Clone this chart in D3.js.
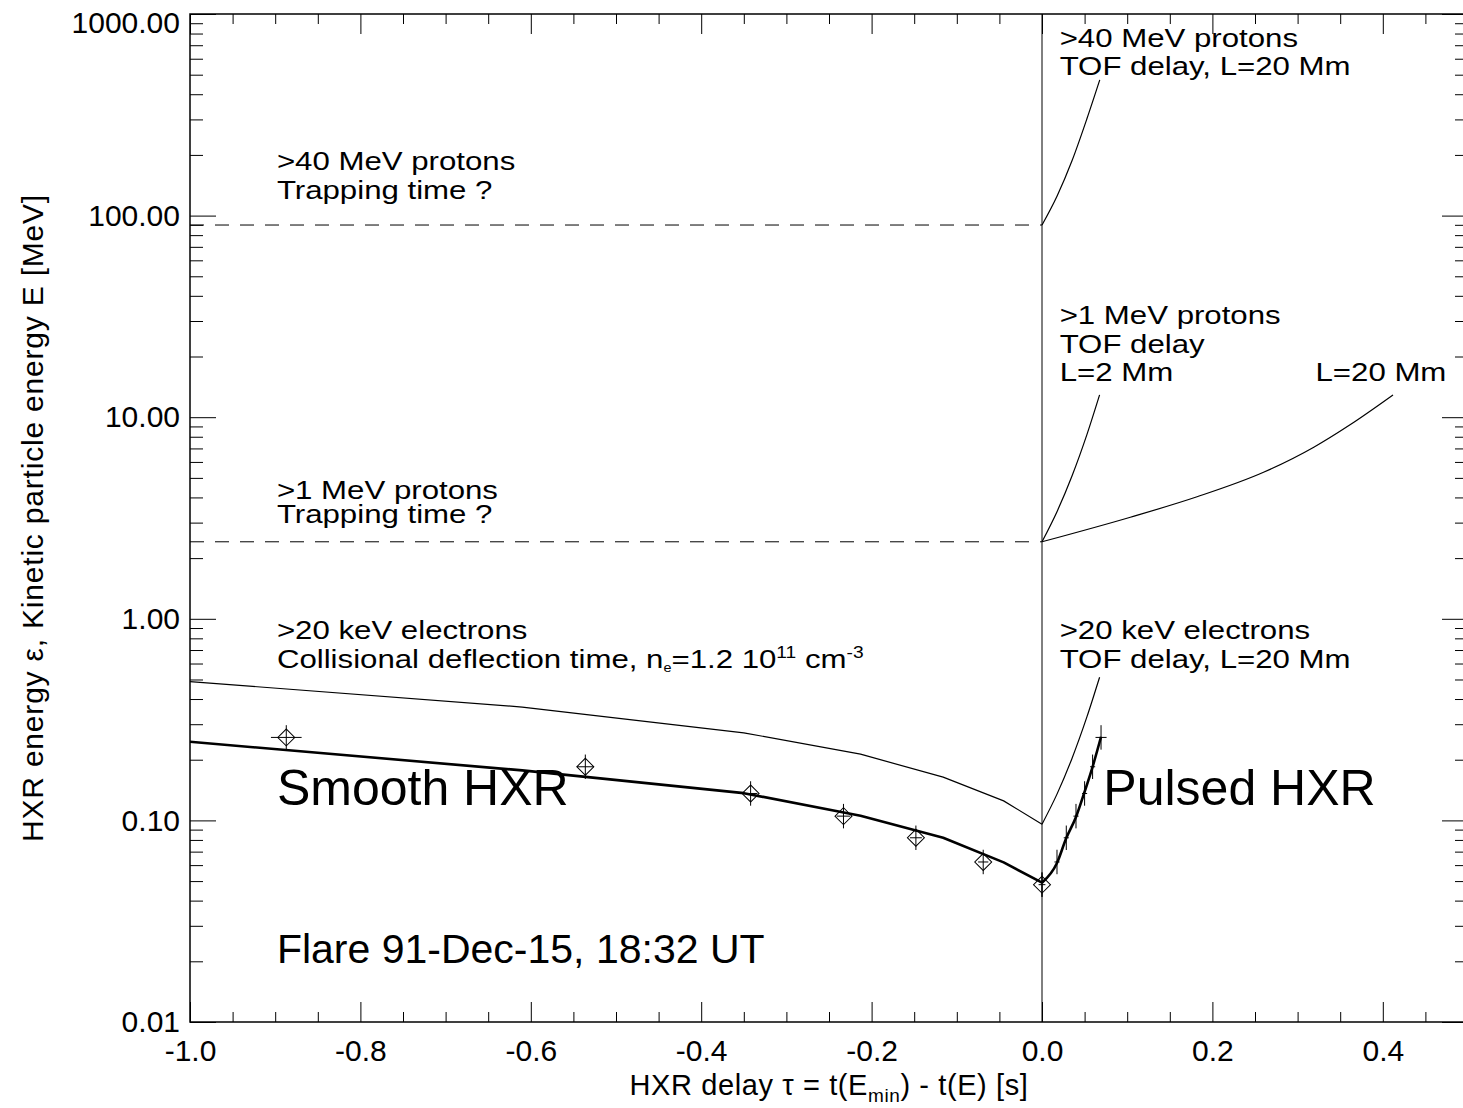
<!DOCTYPE html>
<html>
<head>
<meta charset="utf-8">
<script src="https://cdn.jsdelivr.net/npm/d3@7"></script>
<style>
  body { margin: 0; background: #fff; }
  text { font-family: "Liberation Sans", Arial, sans-serif; fill: #000; }
</style>
</head>
<body>
<div id="chart"></div>
<script>
// axis ticks
const xTicks = [-1.0, -0.8, -0.6, -0.4, -0.2, 0.0, 0.2, 0.4];
const yTicks = [0.01, 0.1, 1, 10, 100, 1000];

// HXR peak energies [MeV] and their relative error
const hxrEnergy = [0.258, 0.1845, 0.136, 0.105, 0.082, 0.0622, 0.048];
const energyErr = [0.15, 0.15, 0.15, 0.15, 0.15, 0.15, 0.15];

// smooth HXR delays [s]
const smoothDelay = [-0.887, -0.536, -0.342, -0.233, -0.148, -0.069, 0.0];
const smoothDelayErr = [0.018, 0.010, 0.008, 0.008, 0.007, 0.006, 0.004];

// pulsed HXR delays [s] (same energies)
const pulsedDelay = [0.0693, 0.0594, 0.050, 0.0399, 0.0285, 0.0176, 0.0];
const pulsedDelayErr = [0.0065, 0.003, 0.003, 0.003, 0.003, 0.003, 0.0];

// fitted curves
const fitDelay = [-1.0, -0.61, -0.350, -0.213, -0.116, -0.045, 0.0];
const smoothFit = [0.2455, 0.177, 0.1365, 0.1055, 0.082, 0.0619, 0.0491];
const deflection = [0.488, 0.365, 0.272, 0.213, 0.164, 0.125, 0.0957];

const pulsedFitDelay = [0.0, 0.0176, 0.0285, 0.0399, 0.050, 0.0594, 0.0693];
const pulsedFit = [0.0491, 0.0615, 0.0818, 0.104, 0.1387, 0.1845, 0.260];

// TOF delays
const eTofDelay = [0.0, 0.0176, 0.0352, 0.0528, 0.0676];
const eTofEnergy = [0.0957, 0.135, 0.203, 0.327, 0.513];

const p40Delay = [0.0, 0.0176, 0.0352, 0.0528, 0.0678];
const p40Energy = [89.8, 124.8, 187, 303, 471];

const p1L2Delay = [0.0, 0.0176, 0.0352, 0.0528, 0.0676];
const p1L2Energy = [2.41, 3.40, 5.11, 8.22, 12.9];

const p1L20Delay = [0.0, 0.1037, 0.182, 0.260, 0.319, 0.362, 0.412];
const p1L20Energy = [2.41, 3.19, 4.03, 5.33, 7.1, 9.2, 12.9];

// trapping-time levels [MeV]
const trapLevels = [89.8, 2.41];

// annotations: [delay, energy at baseline, text]
const notes = [
  [-0.898, 168, ">40 MeV protons"],
  [-0.898, 121, "Trapping time ?"],
  [-0.898, 3.93, ">1 MeV protons"],
  [-0.898, 2.99, "Trapping time ?"],
  [-0.898, 0.794, ">20 keV electrons"],
  [0.0207, 688, ">40 MeV protons"],
  [0.0207, 501, "TOF delay, L=20 Mm"],
  [0.0207, 29.0, ">1 MeV protons"],
  [0.0207, 20.9, "TOF delay"],
  [0.0207, 15.1, "L=2 Mm"],
  [0.321, 15.1, "L=20 Mm"],
  [0.0207, 0.794, ">20 keV electrons"],
  [0.0207, 0.570, "TOF delay, L=20 Mm"]
];

const width = 1463, height = 1108;
const plot = {left: 190, right: 1468, top: 14, bottom: 1022};
const stretch = 1.2;   // IDL fonts are wider than Arial

const svg = d3.select("#chart").append("svg")
  .attr("width", width)
  .attr("height", height)
  .attr("viewBox", [0, 0, width, height]);

const x = d3.scaleLinear()
  .domain([-1, 0.5])
  .range([plot.left, plot.right]);

const y = d3.scaleLog()
  .domain([0.01, 1000])
  .range([plot.bottom, plot.top]);

const isMajorX = d => xTicks.some(t => Math.abs(t - d) < 1e-9);
const isDecade = d => Math.abs(Math.log10(d) - Math.round(Math.log10(d))) < 1e-6;
const xMinor = x.ticks(30).filter(d => !isMajorX(d));
const yMinor = y.ticks().filter(d => !isDecade(d));

const styleAxis = g => g
  .call(g => g.select(".domain").remove())
  .attr("font-family", "Liberation Sans, Arial, sans-serif")
  .attr("font-size", 30)
  .call(g => g.selectAll(".tick line").attr("stroke", "#000").attr("stroke-width", 1));

// bottom
svg.append("g")
  .attr("transform", `translate(0,${plot.bottom})`)
  .call(d3.axisBottom(x).tickValues(xTicks).tickSize(-20).tickPadding(18)
    .tickFormat(d => d.toFixed(1)))
  .call(styleAxis);
svg.append("g")
  .attr("transform", `translate(0,${plot.bottom})`)
  .call(d3.axisBottom(x).tickValues(xMinor).tickSize(-10).tickFormat(""))
  .call(styleAxis);
// top
svg.append("g")
  .attr("transform", `translate(0,${plot.top})`)
  .call(d3.axisTop(x).tickValues(xTicks).tickSize(-20).tickFormat(""))
  .call(styleAxis);
svg.append("g")
  .attr("transform", `translate(0,${plot.top})`)
  .call(d3.axisTop(x).tickValues(xMinor).tickSize(-10).tickFormat(""))
  .call(styleAxis);
// left
svg.append("g")
  .attr("transform", `translate(${plot.left},0)`)
  .call(d3.axisLeft(y).tickValues(yTicks).tickSize(-26).tickPadding(10)
    .tickFormat(d3.format(".2f")))
  .call(styleAxis)
  .call(g => g.selectAll(".tick text")
    .filter(d => d === 1000)
    .attr("dy", "0.6em"));
svg.append("g")
  .attr("transform", `translate(${plot.left},0)`)
  .call(d3.axisLeft(y).tickValues(yMinor).tickSize(-13).tickFormat(""))
  .call(styleAxis);
// right
svg.append("g")
  .attr("transform", `translate(${plot.right},0)`)
  .call(d3.axisRight(y).tickValues(yTicks).tickSize(-26).tickFormat(""))
  .call(styleAxis);
svg.append("g")
  .attr("transform", `translate(${plot.right},0)`)
  .call(d3.axisRight(y).tickValues(yMinor).tickSize(-13).tickFormat(""))
  .call(styleAxis);

// frame
svg.append("rect")
  .attr("x", plot.left)
  .attr("y", plot.top)
  .attr("width", plot.right - plot.left)
  .attr("height", plot.bottom - plot.top)
  .attr("fill", "none")
  .attr("stroke", "#000")
  .attr("stroke-width", 1.5);

svg.append("clipPath").attr("id", "clip")
  .append("rect")
  .attr("x", plot.left)
  .attr("y", plot.top)
  .attr("width", plot.right - plot.left)
  .attr("height", plot.bottom - plot.top);

const g = svg.append("g").attr("clip-path", "url(#clip)");

// tau = 0 line
g.append("line")
  .attr("x1", x(0)).attr("x2", x(0))
  .attr("y1", y(1000)).attr("y2", y(0.01))
  .attr("stroke", "#000").attr("stroke-width", 1);

// trapping levels
g.selectAll(".trap")
  .data(trapLevels)
  .join("line")
    .attr("x1", x(-1)).attr("x2", x(0))
    .attr("y1", d => y(d)).attr("y2", d => y(d))
    .attr("stroke", "#000")
    .attr("stroke-width", 1)
    .attr("stroke-dasharray", "14,11");

const zip = (xs, ys) => xs.map((d, i) => [d, ys[i]]);
const line = d3.line().x(d => x(d[0])).y(d => y(d[1]));
const smooth = d3.line().curve(d3.curveMonotoneX).x(d => x(d[0])).y(d => y(d[1]));

const curves = [
  {pts: zip(fitDelay, deflection), gen: line, w: 1.2},
  {pts: zip(fitDelay, smoothFit), gen: line, w: 2.6},
  {pts: zip(pulsedFitDelay, pulsedFit), gen: smooth, w: 2.6},
  {pts: zip(eTofDelay, eTofEnergy), gen: smooth, w: 1.2},
  {pts: zip(p40Delay, p40Energy), gen: smooth, w: 1.2},
  {pts: zip(p1L2Delay, p1L2Energy), gen: smooth, w: 1.2},
  {pts: zip(p1L20Delay, p1L20Energy), gen: smooth, w: 1.2}
];

g.selectAll(".curve")
  .data(curves)
  .join("path")
    .attr("fill", "none")
    .attr("stroke", "#000")
    .attr("stroke-width", d => d.w)
    .attr("stroke-linejoin", "round")
    .attr("d", d => d.gen(d.pts));

// error bars
const drawErr = (delays, dErr) => {
  const rows = delays.map((d, i) => ({t: d, dt: dErr[i], e: hxrEnergy[i], f: 1 + energyErr[i]}));
  g.append("g")
    .selectAll("line")
    .data(rows)
    .join("line")
      .attr("x1", d => x(d.t)).attr("x2", d => x(d.t))
      .attr("y1", d => y(d.e / d.f)).attr("y2", d => y(d.e * d.f))
      .attr("stroke", "#000").attr("stroke-width", 1);
  g.append("g")
    .selectAll("line")
    .data(rows.filter(d => d.dt > 0))
    .join("line")
      .attr("x1", d => x(d.t - d.dt)).attr("x2", d => x(d.t + d.dt))
      .attr("y1", d => y(d.e)).attr("y2", d => y(d.e))
      .attr("stroke", "#000").attr("stroke-width", 1);
  return rows;
};

const smoothRows = drawErr(smoothDelay, smoothDelayErr);
drawErr(pulsedDelay, pulsedDelayErr);

// diamonds for smooth HXR points
g.append("g")
  .selectAll("path")
  .data(smoothRows)
  .join("path")
    .attr("transform", d => `translate(${x(d.t)},${y(d.e)}) rotate(45)`)
    .attr("d", d3.symbol(d3.symbolSquare, 144))
    .attr("fill", "none")
    .attr("stroke", "#000")
    .attr("stroke-width", 1);

// annotations
const at = (t, e) => `translate(${x(t)},${y(e)}) scale(${stretch},1)`;

svg.append("g")
  .selectAll("text")
  .data(notes)
  .join("text")
    .attr("transform", d => at(d[0], d[1]))
    .attr("font-size", 26)
    .text(d => d[2]);

const coll = svg.append("text")
  .attr("transform", at(-0.898, 0.570))
  .attr("font-size", 26);
coll.append("tspan").text("Collisional deflection time, n");
coll.append("tspan").attr("font-size", 12).attr("dy", 4).text("e");
coll.append("tspan").attr("dy", -4).text("=1.2 10");
coll.append("tspan").attr("font-size", 16).attr("dy", -10).text("11");
coll.append("tspan").attr("dy", 10).text(" cm");
coll.append("tspan").attr("font-size", 16).attr("dy", -10).text("-3");

svg.append("text")
  .attr("x", x(-0.898)).attr("y", y(0.1186))
  .attr("font-size", 50)
  .text("Smooth HXR");
svg.append("text")
  .attr("x", x(0.072)).attr("y", y(0.1186))
  .attr("font-size", 50)
  .text("Pulsed HXR");
svg.append("text")
  .attr("x", x(-0.898)).attr("y", y(0.0196))
  .attr("font-size", 41)
  .text("Flare 91-Dec-15, 18:32 UT");

// axis titles
const xt = svg.append("text")
  .attr("x", (plot.left + plot.right) / 2)
  .attr("y", 1095)
  .attr("text-anchor", "middle")
  .attr("font-size", 29)
  .attr("letter-spacing", 0.6);
xt.append("tspan").text("HXR delay \u03c4 = t(E");
xt.append("tspan").attr("font-size", 19).attr("dy", 7).text("min");
xt.append("tspan").attr("dy", -7).text(") - t(E) [s]");

svg.append("text")
  .attr("transform", `translate(43,${(plot.top + plot.bottom) / 2}) rotate(-90)`)
  .attr("text-anchor", "middle")
  .attr("font-size", 30)
  .attr("letter-spacing", 0.8)
  .text("HXR energy \u03b5, Kinetic particle energy E [MeV]");
</script>
</body>
</html>
